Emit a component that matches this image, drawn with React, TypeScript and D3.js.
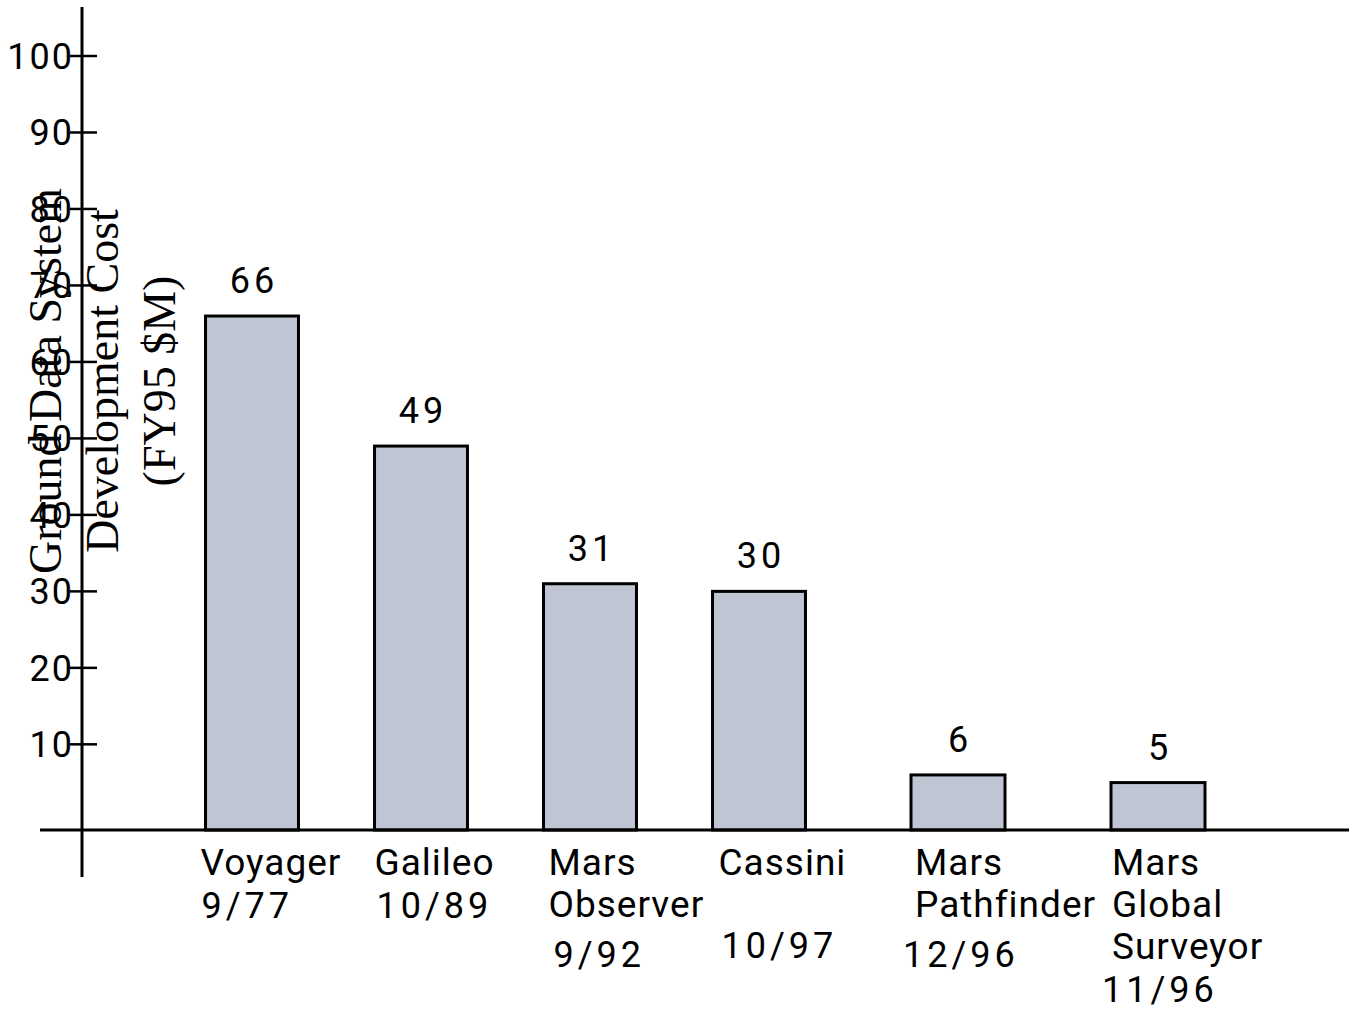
import * as d3 from 'd3'

// values
const missions = ['Voyager', 'Galileo', 'Mars Observer', 'Cassini', 'Mars Pathfinder', 'Mars Global Surveyor']
const costs = [66, 49, 31, 30, 6, 5]
const nameLines = [['Voyager'], ['Galileo'], ['Mars', 'Observer'], ['Cassini'], ['Mars', 'Pathfinder'], ['Mars', 'Global', 'Surveyor']]
const launchDates = ['9/77', '10/89', '9/92', '10/97', '12/96', '11/96']
const yTicks = [10, 20, 30, 40, 50, 60, 70, 80, 90, 100]
const titleLines = ['Ground Data System', 'Development Cost', '(FY95 $M)']

// small hand nudges the original slide had for its text
const nameShift = [-5, 0, 5, 6, 4, 1]
const dateShift = [-4, 2, 10, 9, -8, -9]
const dateDrop = [43, 43, 92, 83, 92, 127]

const W = 1349
const H = 1009
const axisX = 82
const baseY = 830
const barFill = '#c0c5d3'
const sans = 'Roboto, "DejaVu Sans", sans-serif'
const serif = '"Liberation Serif", "Times New Roman", serif'

const App = () => {
  const y = d3.scaleLinear().domain([-1.2, 100]).range([baseY, 56])

  // two groups: the Mars missions at the end are spaced a bit wider
  const xA = d3.scaleBand<string>()
    .domain(missions.slice(0, 4))
    .range([167.5, 843.5])
    .paddingInner(0.45)
    .paddingOuter(0.225)
  const xB = d3.scaleBand<string>()
    .domain(missions.slice(4))
    .range([858, 1258])
    .paddingInner(0.53)
    .paddingOuter(0.265)
  const xPos = (m: string) => (xA.domain().includes(m) ? xA(m)! : xB(m)!)
  const bw = (m: string) => (xA.domain().includes(m) ? xA.bandwidth() : xB.bandwidth())

  return (
    <svg width={W} height={H} style={{ display: 'block', position: 'absolute', left: 0, top: 0, background: '#fff' }}>
      {/* y axis title, overlapping the ticks as in the original */}
      {titleLines.map((t, i) => (
        <text
          key={t}
          transform={`translate(${61 + i * 57},381) rotate(-90)`}
          textAnchor="middle"
          fontFamily={serif}
          fontSize={46}
          fill="#000"
        >
          {t}
        </text>
      ))}

      {/* bars */}
      {missions.map((m, i) => (
        <rect
          key={m}
          x={xPos(m)}
          y={y(costs[i])}
          width={bw(m)}
          height={baseY - y(costs[i])}
          fill={barFill}
          stroke="#000"
          strokeWidth={3}
        />
      ))}

      {/* value labels */}
      {missions.map((m, i) => (
        <text
          key={m + '-v'}
          x={xPos(m) + bw(m) / 2 + 2}
          y={y(costs[i]) - 23}
          textAnchor="middle"
          fontFamily={sans}
          fontSize={36}
          letterSpacing={4}
          fill="#000"
        >
          {costs[i]}
        </text>
      ))}

      {/* axes */}
      <line x1={axisX} x2={axisX} y1={7} y2={877} stroke="#000" strokeWidth={3} />
      <line x1={40} x2={W} y1={baseY} y2={baseY} stroke="#000" strokeWidth={3} />
      {yTicks.map(t => (
        <g key={t}>
          <line x1={70} x2={97} y1={y(t)} y2={y(t)} stroke="#000" strokeWidth={2.5} />
          <text
            x={74}
            y={y(t)}
            dy="0.36em"
            textAnchor="end"
            fontFamily={sans}
            fontSize={36}
            letterSpacing={2}
            fill="#000"
          >
            {t}
          </text>
        </g>
      ))}

      {/* category labels */}
      {missions.map((m, i) => (
        <g key={m + '-l'}>
          {nameLines[i].map((ln, j) => (
            <text
              key={ln}
              x={xPos(m) + nameShift[i]}
              y={875 + j * 42}
              fontFamily={sans}
              fontSize={37}
              letterSpacing={1}
              fill="#000"
            >
              {ln}
            </text>
          ))}
          <text
            x={xPos(m) + dateShift[i]}
            y={875 + dateDrop[i]}
            fontFamily={sans}
            fontSize={36}
            letterSpacing={4}
            fill="#000"
          >
            {launchDates[i]}
          </text>
        </g>
      ))}
    </svg>
  )
}

export default App
